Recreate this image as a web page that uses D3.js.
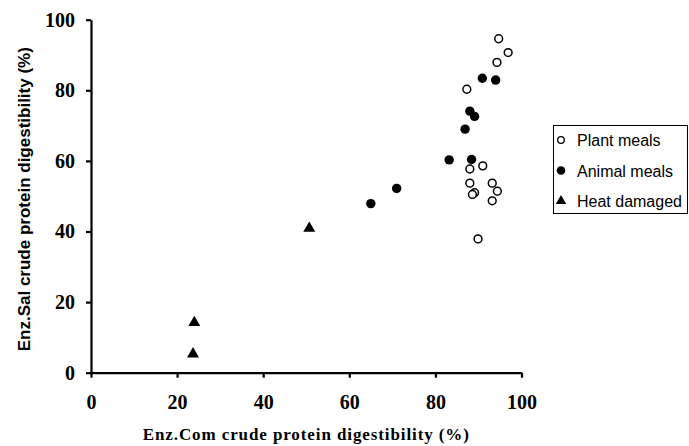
<!DOCTYPE html>
<html>
<head>
<meta charset="utf-8">
<script src="https://cdn.jsdelivr.net/npm/d3@7"></script>
<style>
  html, body { margin: 0; padding: 0; background: #fff; }
  svg { display: block; }
</style>
</head>
<body>
<svg id="chart" width="689" height="446"></svg>
<script>
// ---- data ----
const seriesNames = ["Plant meals", "Animal meals", "Heat damaged"];
const plantX = [94.7, 96.9, 94.3, 87.3, 88.0, 91.0, 88.0, 93.2, 94.4, 89.1, 88.6, 93.2, 89.9];
const plantY = [94.6, 90.7, 87.9, 80.3, 57.7, 58.6, 53.7, 53.7, 51.4, 51.0, 50.5, 48.7, 37.9];
const animalX = [90.9, 94.0, 88.0, 89.1, 86.9, 83.2, 88.4, 71.0, 65.0];
const animalY = [83.4, 82.9, 74.1, 72.6, 69.0, 60.3, 60.4, 52.2, 47.9];
const heatX = [50.7, 24.0, 23.7];
const heatY = [40.9, 14.2, 5.3];
const xTicks = [0, 20, 40, 60, 80, 100];
const yTicks = [0, 20, 40, 60, 80, 100];
const xTitle = "Enz.Com crude protein digestibility (%)";
const yTitle = "Enz.Sal crude protein digestibility (%)";

const svg = d3.select("#chart");
const x = d3.scaleLinear().domain([0, 100]).range([91, 521.5]);
const y = d3.scaleLinear().domain([0, 100]).range([372.7, 19.7]);

const tickFont = "'Liberation Serif', 'Times New Roman', serif";
const sansFont = "'Liberation Sans', Arial, sans-serif";

// axes
const xAxis = svg.append("g").attr("transform", `translate(0,${y(0)})`)
  .call(d3.axisBottom(x).tickValues(xTicks).tickSize(5).tickSizeOuter(0).tickPadding(17));
const yAxis = svg.append("g").attr("transform", `translate(${x(0)},0)`)
  .call(d3.axisLeft(y).tickValues(yTicks).tickSize(5).tickSizeOuter(0).tickPadding(11));
[xAxis, yAxis].forEach(g => {
  g.attr("font-size", 20);
  g.select(".domain").attr("stroke", "#000").attr("stroke-width", 2.2);
  g.selectAll(".tick line").attr("stroke", "#000").attr("stroke-width", 2.2);
  g.selectAll(".tick text").attr("fill", "#000")
    .attr("font-family", tickFont).attr("font-weight", "bold").attr("font-size", 20);
});

// titles
svg.append("text").attr("x", (x(0) + x(100)) / 2).attr("y", 440)
  .attr("text-anchor", "middle")
  .attr("font-family", tickFont).attr("font-weight", "bold").attr("font-size", 17)
  .attr("letter-spacing", 0.9)
  .text(xTitle);
svg.append("text")
  .attr("transform", `translate(30,${(y(0) + y(100)) / 2 + 3}) rotate(-90)`)
  .attr("text-anchor", "middle")
  .attr("font-family", sansFont).attr("font-weight", "bold").attr("font-size", 17)
  .text(yTitle);

// marks
const plant = plantX.map((v, i) => ({ x: v, y: plantY[i] }));
const animal = animalX.map((v, i) => ({ x: v, y: animalY[i] }));
const heat = heatX.map((v, i) => ({ x: v, y: heatY[i] }));

svg.append("g").selectAll("circle").data(plant).join("circle")
  .attr("cx", d => x(d.x)).attr("cy", d => y(d.y)).attr("r", 3.9)
  .attr("fill", "#fff").attr("stroke", "#000").attr("stroke-width", 1.5);
svg.append("g").selectAll("circle").data(animal).join("circle")
  .attr("cx", d => x(d.x)).attr("cy", d => y(d.y)).attr("r", 4.7)
  .attr("fill", "#000");
const tri = d3.symbol().type(d3.symbolTriangle).size(62);
svg.append("g").selectAll("path").data(heat).join("path")
  .attr("transform", d => `translate(${x(d.x)},${y(d.y)})`)
  .attr("d", tri).attr("fill", "#000");

// legend
const lg = svg.append("g");
lg.append("rect").attr("x", 553.5).attr("y", 125.5).attr("width", 134).attr("height", 88)
  .attr("fill", "#fff").attr("stroke", "#000").attr("stroke-width", 1);
const rows = [140, 170.5, 201];
const legTri = d3.symbol().type(d3.symbolTriangle).size(48);
seriesNames.forEach((name, i) => {
  const cy = rows[i];
  if (i === 0) lg.append("circle").attr("cx", 561).attr("cy", cy).attr("r", 3.3)
    .attr("fill", "#fff").attr("stroke", "#000").attr("stroke-width", 1.3);
  if (i === 1) lg.append("circle").attr("cx", 561).attr("cy", cy).attr("r", 4.3).attr("fill", "#000");
  if (i === 2) lg.append("path").attr("transform", `translate(561,${cy})`).attr("d", legTri).attr("fill", "#000");
  lg.append("text").attr("x", 577).attr("y", cy + 6)
    .attr("font-family", sansFont).attr("font-size", 16)
    .text(name);
});
</script>
</body>
</html>
